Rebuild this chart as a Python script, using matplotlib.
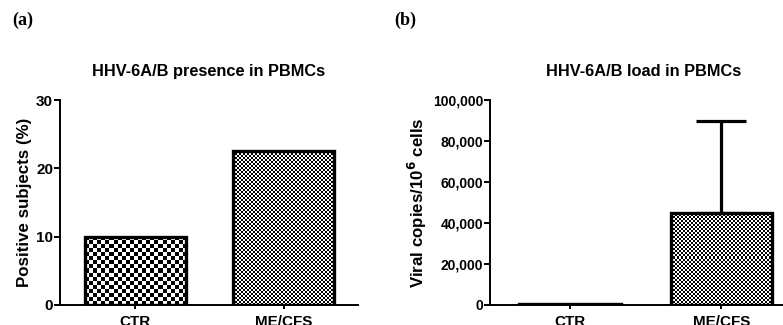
import numpy as np
import matplotlib
matplotlib.use('Agg')
import matplotlib.pyplot as plt
from matplotlib.ticker import FuncFormatter

plt.rcParams['font.family'] = 'Liberation Sans'
plt.rcParams['font.weight'] = 'bold'

groups = ['CTR', 'ME/CFS']
presence = [10.0, 22.5]          # % positive subjects
load = [250, 45000]              # viral copies / 10^6 cells
load_err = [0, 44700]            # upper error only
cell_px = [4, 2]                 # checker size per group


def checker(ax, bar, cell):
    # fill a bar with a checkerboard, clipped to the bar shape
    bb = bar.get_window_extent()
    nx = max(1, int(round(bb.width / cell)))
    ny = max(1, int(round(bb.height / cell)))
    img = (np.add.outer(np.arange(ny), np.arange(nx)) % 2).astype(float)
    x0, y0 = bar.get_x(), bar.get_y()
    im = ax.imshow(img, cmap='gray', vmin=0, vmax=1, interpolation='nearest',
                   extent=(x0, x0 + bar.get_width(), y0, y0 + bar.get_height()),
                   aspect='auto', origin='lower', zorder=1)
    im.set_clip_path(bar)


def style(ax, ysize):
    ax.spines['top'].set_visible(False)
    ax.spines['right'].set_visible(False)
    ax.spines['left'].set_linewidth(1.4)
    ax.spines['bottom'].set_linewidth(1.4)
    ax.tick_params(axis='y', length=4, width=1.4, labelsize=ysize, pad=1)
    ax.tick_params(axis='x', length=3, width=1.4, labelsize=11, pad=4)
    for t in ax.get_xticklabels() + ax.get_yticklabels():
        t.set_fontweight('bold')


W, H = 783, 325
fig = plt.figure(figsize=(W / 100, H / 100), dpi=100)

# panel (a)
ax1 = fig.add_axes([60 / W, 1 - 305 / H, 298 / W, 205 / H])
x = np.arange(len(groups))
bars1 = ax1.bar(x, presence, width=0.68, facecolor='none', edgecolor='black',
                linewidth=2.4, zorder=2)
ax1.set_xlim(-0.505, 1.5)
ax1.set_ylim(0, 30)
ax1.set_yticks([0, 10, 20, 30])
ax1.set_xticks(x)
ax1.set_xticklabels(groups)
for b, c in zip(bars1, cell_px):
    checker(ax1, b, c)
ax1.set_title('HHV-6A/B presence in PBMCs', fontsize=11.8, fontweight='bold', pad=17)
ax1.set_ylabel('Positive subjects (%)', fontsize=12.2, fontweight='bold', labelpad=3)
style(ax1, 11)

# panel (b)
ax2 = fig.add_axes([490 / W, 1 - 305 / H, 307 / W, 205 / H])
bars2 = ax2.bar(x, load, width=0.67, facecolor='none', edgecolor='black',
                linewidth=2.4, zorder=2)
ax2.errorbar(x[1:], load[1:], yerr=[[0], load_err[1:]], fmt='none', ecolor='black',
             elinewidth=2.3, capsize=18, capthick=2.3, zorder=3)
ax2.set_xlim(-0.53, 1.5)
ax2.set_ylim(0, 100000)
ax2.set_yticks(np.arange(0, 100001, 20000))
ax2.yaxis.set_major_formatter(FuncFormatter(lambda v, p: f'{int(v):,}'))
ax2.set_xticks(x)
ax2.set_xticklabels(groups)
for b, c in zip(bars2, cell_px):
    if b.get_height() > 1000:
        checker(ax2, b, c)
ax2.set_title('HHV-6A/B load in PBMCs', fontsize=11.8, fontweight='bold', pad=17)
ax2.set_ylabel('Viral copies/10$^{\\mathbf{6}}$ cells', fontsize=12.2, fontweight='bold', labelpad=3)
style(ax2, 10)

fig.text(12 / W, 1 - 20 / H, '(a)', family='Liberation Serif', fontweight='bold',
         fontsize=13, va='center', ha='left')
fig.text(394 / W, 1 - 20 / H, '(b)', family='Liberation Serif', fontweight='bold',
         fontsize=13, va='center', ha='left')

fig.savefig('out.png', dpi=100)
